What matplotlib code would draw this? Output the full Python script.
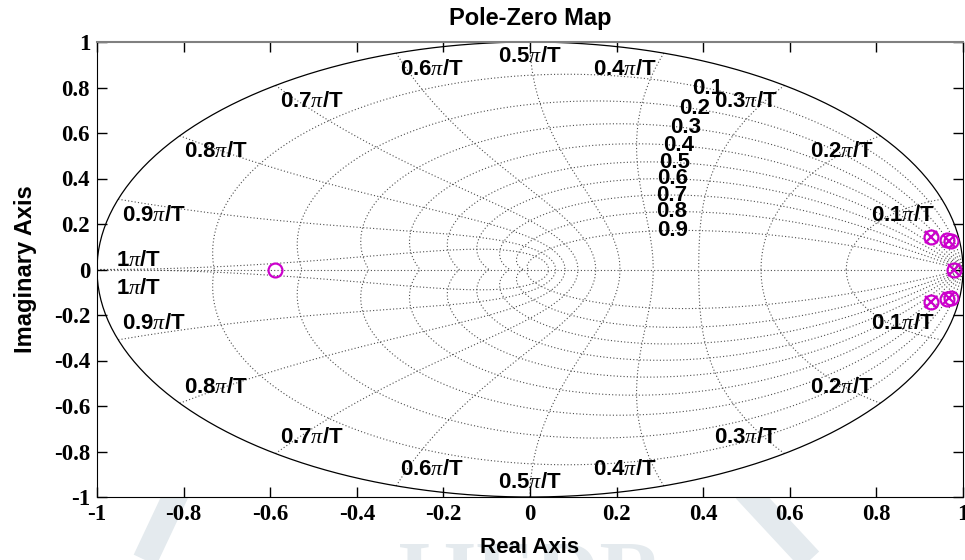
import matplotlib
matplotlib.use("Agg")
import matplotlib.pyplot as plt
from matplotlib.lines import Line2D
import numpy as np

# pole / zero locations
zeros_re = [-0.59, 0.926, 0.926, 0.963, 0.963, 0.972, 0.972, 0.98]
zeros_im = [0.0, 0.143, -0.143, 0.128, -0.128, 0.124, -0.124, 0.0]
poles_re = [0.926, 0.926, 0.968, 0.968, 0.98]
poles_im = [0.143, -0.143, 0.126, -0.126, 0.0]

# zgrid parameters
zetas = [0.1, 0.2, 0.3, 0.4, 0.5, 0.6, 0.7, 0.8, 0.9]
wns = [0.1, 0.2, 0.3, 0.4, 0.5, 0.6, 0.7, 0.8, 0.9, 1.0]
ticks = [-1, -0.8, -0.6, -0.4, -0.2, 0, 0.2, 0.4, 0.6, 0.8, 1]

plt.rcParams["mathtext.fontset"] = "custom"
plt.rcParams["mathtext.it"] = "Liberation Serif:italic"
plt.rcParams["mathtext.rm"] = "Liberation Sans:bold"

W, H = 965, 560
fig = plt.figure(figsize=(W / 100, H / 100), dpi=100)

# faint watermark below the axes
wm = "#e4eaee"
fig.add_artist(Line2D([145 / W, 178 / W], [0, 1 - 490 / H], transform=fig.transFigure,
                      color=wm, lw=18, zorder=-5, solid_capstyle="butt"))
fig.add_artist(Line2D([745 / W, 810 / W], [1 - 490 / H, 0], transform=fig.transFigure,
                      color=wm, lw=18, zorder=-5, solid_capstyle="butt"))
fig.text(530 / W, 1 - 540 / H, "IJEDR", ha="center", va="top", fontsize=64,
         color=wm, family="Liberation Serif", weight="bold", zorder=-5)

ax = fig.add_axes([97 / W, 63 / H, 866 / W, 455 / H])
ax.set_facecolor("white")

grid_kw = dict(color="0.3", lw=0.8, linestyle=(0, (1, 2)), zorder=1)
lab_kw = dict(fontsize=16, weight="bold", family="Liberation Sans", zorder=3)

# constant damping curves
theta = np.linspace(0, np.pi, 200)
for z in zetas:
    m = z / np.sqrt(1 - z ** 2)
    zz = np.exp(theta * (-m + 1j))
    ax.plot(zz.real, zz.imag, **grid_kw)
    ax.plot(zz.real, -zz.imag, **grid_kw)
    # label sits on the curve at wn = 0.35*pi/T
    pt = np.exp(0.35 * np.pi * (-z + 1j * np.sqrt(1 - z ** 2)))
    ax.text(pt.real, pt.imag, f"{z:g}", ha="center", va="center", **lab_kw)

# constant natural frequency curves
zeta_s = np.linspace(0, 1, 200)
for w in wns:
    zz = np.exp(w * np.pi * (-zeta_s + 1j * np.sqrt(1 - zeta_s ** 2)))
    ax.plot(zz.real, zz.imag, **grid_kw)
    ax.plot(zz.real, -zz.imag, **grid_kw)
    lab = f"{w:g}" + r"$\it{\pi}$" + "/T"
    cx, cy = np.cos(w * np.pi), np.sin(w * np.pi)
    for sgn in (1, -1):
        if w == 1.0:
            ha, va, off = "left", ("bottom" if sgn > 0 else "top"), (14, -1 if sgn > 0 else -6)
        elif abs(cx) < 1e-6:
            ha, va, off = "center", ("top" if sgn > 0 else "bottom"), (0, -3 * sgn)
        elif cx > 0:
            ha, va, off = "right", ("top" if sgn > 0 else "bottom"), (-5, -4 * sgn)
        else:
            ha, va, off = "left", ("top" if sgn > 0 else "bottom"), (3, -4 * sgn)
        ax.annotate(lab, (cx, sgn * cy), xytext=off, textcoords="offset points",
                    ha=ha, va=va, **lab_kw)

ax.axhline(0, **grid_kw)

# unit circle
phi = np.linspace(0, 2 * np.pi, 400)
ax.plot(np.cos(phi), np.sin(phi), color="black", lw=0.9, zorder=2)

mag = "#cc00cc"
ax.plot(zeros_re, zeros_im, linestyle="none", marker="o", markersize=10,
        markerfacecolor="none", markeredgecolor=mag, markeredgewidth=1.6, zorder=4)
ax.plot(poles_re, poles_im, linestyle="none", marker="x", markersize=8,
        markeredgecolor=mag, markeredgewidth=1.6, zorder=4)

ax.set_xlim(-1, 1)
ax.set_ylim(-1, 1)
ax.set_xticks(ticks)
ax.set_yticks(ticks)
ax.set_xticklabels([f"{t:g}" for t in ticks])
ax.set_yticklabels([f"{t:g}" for t in ticks])
ax.tick_params(direction="in", top=True, right=True, length=7, width=1, pad=5)
for lbl in ax.get_xticklabels() + ax.get_yticklabels():
    lbl.set_family("Liberation Serif")
    lbl.set_weight("bold")
    lbl.set_fontsize(16.5)
ax.spines["top"].set_color("0.5")
ax.spines["top"].set_linewidth(1.5)

ax.set_xlabel("Real Axis", fontsize=16, weight="bold", family="Liberation Sans", labelpad=9)
ax.set_ylabel("Imaginary Axis", fontsize=17, weight="bold", family="Liberation Sans", labelpad=12)
ax.set_title("Pole-Zero Map", fontsize=17, weight="bold", family="Liberation Sans", pad=12)

fig.savefig("out.png", dpi=100)
